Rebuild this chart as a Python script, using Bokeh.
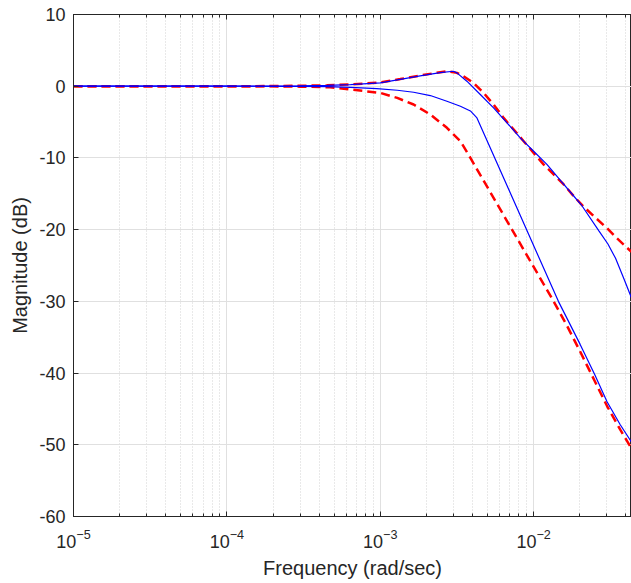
from bokeh.plotting import figure
from bokeh.models import LogAxis, LogTicker, SingleIntervalTicker, CustomJSTickFormatter
from bokeh.embed import file_html
from bokeh.resources import INLINE

# ---- data ----
f_blue1 = [1e-5, 1e-4, 2e-4, 3e-4, 4.5e-4, 6.4e-4, 1e-3, 1.35e-3, 1.82e-3, 2.46e-3, 3.0e-3,
           3.16e-3, 3.67e-3, 4.49e-3, 5.48e-3, 6.70e-3, 8.18e-3, 1.0e-2, 1.22e-2, 1.49e-2,
           1.79e-2, 2.07e-2, 2.67e-2, 3.05e-2, 3.42e-2, 3.9e-2, 4.34e-2]
db_blue1 = [0, 0, 0.02, 0.06, 0.12, 0.23, 0.46, 0.95, 1.45, 1.9, 2.09,
            1.86, 0.7, -1.16, -3.02, -5.1, -7.2, -9.07, -10.9, -13.1,
            -15.1, -16.7, -20.2, -22.0, -24.0, -27.0, -29.5]

f_red1 = [1e-5, 1e-4, 2e-4, 3e-4, 4.5e-4, 6.4e-4, 1e-3, 1.35e-3, 1.82e-3, 2.46e-3, 2.72e-3,
          3.16e-3, 3.49e-3, 4.06e-3, 4.72e-3, 5.48e-3, 6.37e-3, 7.41e-3, 8.61e-3, 1e-2,
          1.16e-2, 1.35e-2, 1.57e-2, 1.82e-2, 2.12e-2, 2.46e-2, 3.01e-2, 3.49e-2, 4.34e-2]
db_red1 = [0, 0, 0.02, 0.06, 0.12, 0.25, 0.52, 1.0, 1.49, 1.95, 2.09,
           1.86, 1.39, 0.46, -0.93, -2.55, -4.42, -6.04, -7.67, -9.3,
           -10.9, -12.3, -13.7, -15.3, -16.8, -18.1, -19.8, -21.2, -23.1]

f_blue2 = [1e-5, 1e-4, 2e-4, 3e-4, 4.5e-4, 6.4e-4, 9.5e-4, 1.29e-3, 1.65e-3, 2.12e-3, 2.72e-3,
           3.33e-3, 3.87e-3, 4.27e-3, 1.45e-2, 2.01e-2, 2.50e-2, 3.01e-2, 3.67e-2, 4.34e-2]
db_blue2 = [0, 0, -0.01, -0.03, -0.07, -0.15, -0.33, -0.56, -0.84, -1.30, -2.09,
            -2.79, -3.45, -4.42, -30.0, -36.0, -40.2, -44.0, -47.2, -49.6]

f_red2 = [1e-5, 1e-4, 2e-4, 3e-4, 4.7e-4, 6.4e-4, 1e-3, 1.29e-3, 1.65e-3, 2.12e-3, 2.72e-3,
          3.33e-3, 3.87e-3, 1.35e-2, 1.65e-2, 2.01e-2, 2.50e-2, 3.01e-2, 3.67e-2, 4.34e-2]
db_red2 = [0, 0, -0.02, -0.06, -0.14, -0.46, -0.93, -1.63, -2.55, -3.95, -5.8,
           -7.67, -10.0, -30.0, -33.4, -37.0, -41.1, -44.6, -47.9, -50.5]

x_label = "Frequency (rad/sec)"
y_label = "Magnitude (dB)"

FONT = "Liberation Sans"
AX = "#262626"

p = figure(width=631, height=583, x_axis_type="log",
           x_range=(1e-5, 0.04345), y_range=(-60, 10),
           output_backend="svg", toolbar_location=None,
           min_border_left=73, min_border_right=0, min_border_top=14, min_border_bottom=67,
           background_fill_color="white", border_fill_color="white")

p.outline_line_color = AX
p.outline_line_width = 1

# grids
p.xgrid.grid_line_color = "#e0e0e0"
p.ygrid.grid_line_color = "#e0e0e0"
p.xgrid.minor_grid_line_color = "#d2d2d2"
p.xgrid.minor_grid_line_dash = "1 2"
p.ygrid.ticker = SingleIntervalTicker(interval=10, num_minor_ticks=0)

# x axis
xa = p.xaxis[0]
xa.ticker = LogTicker(num_minor_ticks=10)
xa.axis_label = x_label
xa.axis_line_color = AX
xa.major_tick_line_color = AX
xa.minor_tick_line_color = AX
xa.major_tick_in = 5
xa.major_tick_out = 0
xa.minor_tick_in = 3
xa.minor_tick_out = 0
xa.major_label_standoff = 12
xa.major_label_text_font = FONT
xa.major_label_text_font_size = "18px"
xa.major_label_text_color = AX
xa.axis_label_text_font = FONT
xa.axis_label_text_font_size = "20px"
xa.axis_label_text_font_style = "normal"
xa.axis_label_text_color = AX
xa.axis_label_standoff = 6

# y axis
ya = p.yaxis[0]
ya.ticker = SingleIntervalTicker(interval=10, num_minor_ticks=0)
ya.formatter = CustomJSTickFormatter(code="return tick.toFixed(0)")
ya.axis_label = y_label
ya.axis_line_color = AX
ya.major_tick_line_color = AX
ya.major_tick_in = 5
ya.major_tick_out = 0
ya.minor_tick_line_color = None
ya.major_label_standoff = 8
ya.major_label_text_font = FONT
ya.major_label_text_font_size = "18px"
ya.major_label_text_color = AX
ya.axis_label_text_font = FONT
ya.axis_label_text_font_size = "20px"
ya.axis_label_text_font_style = "normal"
ya.axis_label_text_color = AX
ya.axis_label_standoff = 5

# top axis: ticks only
top = LogAxis(ticker=LogTicker(num_minor_ticks=10),
              formatter=CustomJSTickFormatter(code="return ''"))
top.axis_line_color = AX
top.major_tick_line_color = AX
top.minor_tick_line_color = AX
top.major_tick_in = 5
top.major_tick_out = 0
top.minor_tick_in = 3
top.minor_tick_out = 0
top.major_label_standoff = 0
top.major_label_text_font_size = "1px"
p.add_layout(top, "above")

# curves: red dashed first, blue on top
p.line(f_red1, db_red1, line_color="#ff0000", line_width=2.5, line_dash="9 5")
p.line(f_red2, db_red2, line_color="#ff0000", line_width=2.5, line_dash="9 5")
p.line(f_blue1, db_blue1, line_color="#0000ff", line_width=1.2)
p.line(f_blue2, db_blue2, line_color="#0000ff", line_width=1.2)

open("out.html", "w").write(file_html(p, INLINE))
